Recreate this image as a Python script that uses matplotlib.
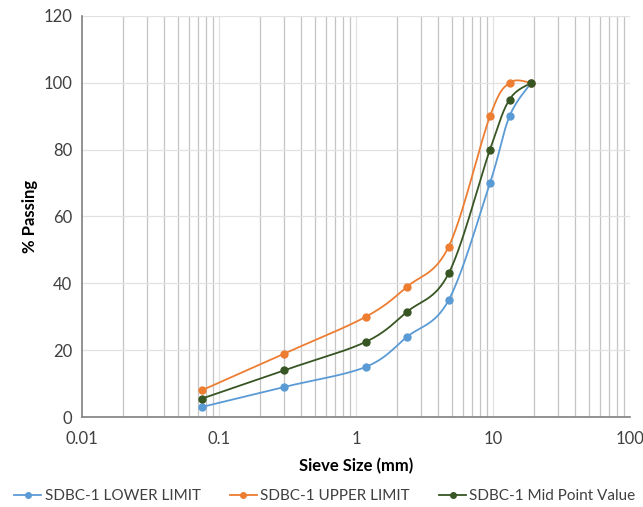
import numpy as np
import matplotlib
matplotlib.use("Agg")
import matplotlib.pyplot as plt
from matplotlib.lines import Line2D

sieve_sizes = [0.075, 0.3, 1.18, 2.36, 4.75, 9.5, 13.2, 19]
lower_limit = [3, 9, 15, 24, 35, 70, 90, 100]
upper_limit = [8, 19, 30, 39, 51, 90, 100, 100]
mid_point = [5.5, 14, 22.5, 31.5, 43, 80, 95, 100]

series_names = ["SDBC-1 LOWER LIMIT", "SDBC-1 UPPER LIMIT", "SDBC-1 Mid Point Value"]
series_colors = ["#5B9BD5", "#ED7D31", "#375623"]
y_ticks = [0, 20, 40, 60, 80, 100, 120]
x_ticks = [0.01, 0.1, 1, 10, 100]
x_ticklabels = ["0.01", "0.1", "1", "10", "100"]

plt.rcParams['font.family'] = ['Lato', 'DejaVu Sans']


def smooth(xs, ys, n=40):
    # Catmull-Rom (Excel-like smoothed line) in log10(x), y space
    lx = np.log10(np.asarray(xs, float))
    y = np.asarray(ys, float)
    P = np.column_stack([lx, y])
    P = np.vstack([P[0], P, P[-1]])
    out = []
    for i in range(1, len(P) - 2):
        p0, p1, p2, p3 = P[i - 1], P[i], P[i + 1], P[i + 2]
        t = np.linspace(0, 1, n)[:, None]
        c1 = p1 + (p2 - p0) / 6.0
        c2 = p2 - (p3 - p1) / 6.0
        seg = ((1 - t) ** 3) * p1 + 3 * ((1 - t) ** 2) * t * c1 + 3 * (1 - t) * t ** 2 * c2 + t ** 3 * p2
        out.append(seg if i == 1 else seg[1:])
    out = np.vstack(out)
    return 10 ** out[:, 0], out[:, 1]


fig = plt.figure(figsize=(6.43, 5.07), dpi=100)
ax = fig.add_axes([82 / 643, 1 - 417 / 507, (630 - 82) / 643, (417 - 16) / 507])

ax.set_xscale('log')
ax.set_xlim(0.01, 100)
ax.set_ylim(0, 120)

# gridlines
for dec in [0.01, 0.1, 1, 10]:
    for k in range(2, 10):
        ax.axvline(dec * k, color="#C4C4C4", lw=0.9, zorder=0)
for v in [0.1, 1, 10, 100]:
    ax.axvline(v, color="#E2E2E2", lw=0.9, zorder=0)
for v in y_ticks[1:]:
    ax.axhline(v, color="#E2E2E2", lw=0.9, zorder=0)

handles = []
for ys, name, col in zip([lower_limit, upper_limit, mid_point], series_names, series_colors):
    sx, sy = smooth(sieve_sizes, ys)
    ax.plot(sx, sy, color=col, lw=1.3, zorder=3)
    ax.plot(sieve_sizes, ys, 'o', color=col, ms=5, zorder=4)
    handles.append(Line2D([0], [0], color=col, lw=1.3, marker='o', ms=4, label=name))

ax.set_xticks(x_ticks)
ax.set_xticklabels(x_ticklabels)
ax.xaxis.set_minor_locator(matplotlib.ticker.NullLocator())
ax.set_yticks(y_ticks)
ax.tick_params(axis='both', length=0, labelsize=12, colors="#404040")
ax.tick_params(axis='x', pad=10)
ax.tick_params(axis='y', pad=7)

for s in ['top', 'right']:
    ax.spines[s].set_visible(False)
for s in ['left', 'bottom']:
    ax.spines[s].set_color("#7F7F7F")
    ax.spines[s].set_linewidth(1.2)

ax.set_xlabel("Sieve Size (mm)", fontsize=12, fontweight='bold', color="#000000", labelpad=8)
ax.set_ylabel("% Passing", fontsize=12, fontweight='bold', color="#000000", labelpad=4)

fig.legend(handles=handles, loc='center', bbox_to_anchor=(0.505, 1 - 496 / 507), ncol=3,
           frameon=False, fontsize=11, handlelength=1.8, handletextpad=0.2, columnspacing=1.9,
           labelcolor="#404040")

fig.savefig("out.png", dpi=100)
